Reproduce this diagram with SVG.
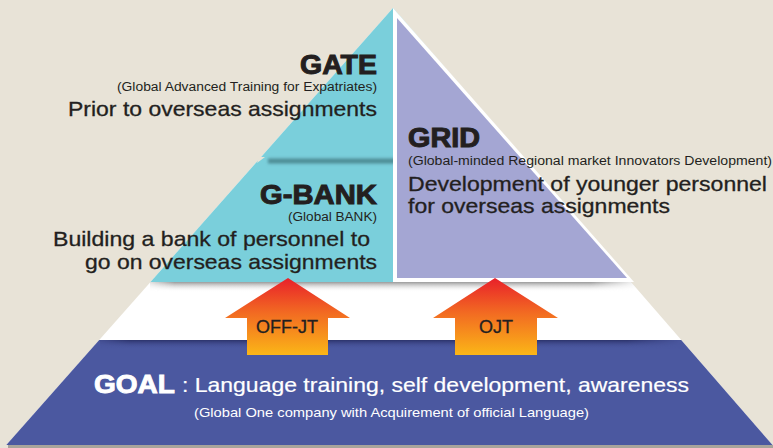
<svg xmlns="http://www.w3.org/2000/svg" width="773" height="448" viewBox="0 0 773 448">
<style>
.dark{fill:#231F20;font-family:"Liberation Sans",Arial,sans-serif}
.head{font-weight:bold;font-size:27px;stroke:#231F20;stroke-width:1}
.sub{font-size:12.5px}
.body{font-size:21px;stroke:#231F20;stroke-width:0.3}
.arrowtxt{fill:#231F20;font-family:"Liberation Sans",Arial,sans-serif;font-size:18px;text-anchor:middle;stroke:#231F20;stroke-width:0.3}
.white{fill:#FFFFFF;font-family:"Liberation Sans",Arial,sans-serif}
</style>
<defs>
<linearGradient id="arrowGrad" x1="0" y1="0" x2="0" y2="1">
<stop offset="0" stop-color="#E8202A"/>
<stop offset="0.45" stop-color="#F26A22"/>
<stop offset="1" stop-color="#FBB617"/>
</linearGradient>
<linearGradient id="grayShadow" x1="0" y1="0" x2="0" y2="1">
<stop offset="0" stop-color="#9A9A9A"/>
<stop offset="1" stop-color="#FFFFFF" stop-opacity="0"/>
</linearGradient>
<linearGradient id="navyShadow" x1="0" y1="0" x2="0" y2="1">
<stop offset="0" stop-color="#2C336B"/>
<stop offset="1" stop-color="#4B58A0" stop-opacity="0"/>
</linearGradient>
<linearGradient id="fadeR" x1="0" y1="0" x2="1" y2="0">
<stop offset="0" stop-color="#fff" stop-opacity="0.3"/>
<stop offset="0.05" stop-color="#fff" stop-opacity="1"/>
<stop offset="0.9" stop-color="#fff" stop-opacity="1"/>
<stop offset="1" stop-color="#fff" stop-opacity="0"/>
</linearGradient>
<filter id="blur" x="-10%" y="-100%" width="120%" height="300%"><feGaussianBlur stdDeviation="1.6"/></filter>
<mask id="fadeMaskGoal"><rect x="100" y="338" width="585" height="12" fill="url(#fadeR)"/></mask>
<mask id="fadeMaskTeal"><rect x="150" y="282" width="490" height="12" fill="url(#fadeR)"/></mask>
<clipPath id="pyr"><polygon points="393,8 6,445 773,445"/></clipPath>
<clipPath id="tealClip"><polygon points="393,8 150.5,282 393,282"/></clipPath>
</defs>

<rect x="0" y="0" width="773" height="448" fill="#E8E3D7"/>

<g id="base-pyramid">
<polygon points="393,8 6.3,445 772.5,445" fill="#FFFFFF"/>
<rect x="8" y="445" width="765" height="3" fill="#A8A49B"/>
</g>

<g id="goal">
<polygon points="99.2,340 681.2,340 772.5,445 6.3,445" fill="#4B58A0"/>
<g clip-path="url(#pyr)" mask="url(#fadeMaskGoal)">
<rect x="100" y="340" width="585" height="9" fill="url(#navyShadow)"/>
</g>
<text class="white" x="94" y="393" font-size="26" font-weight="bold" stroke="#FFFFFF" stroke-width="0.9" textLength="81" lengthAdjust="spacingAndGlyphs">GOAL</text>
<text class="white" x="182" y="392" font-size="21" stroke="#FFFFFF" stroke-width="0.2" textLength="507" lengthAdjust="spacingAndGlyphs">: Language training, self development, awareness</text>
<text class="white" x="194" y="417" font-size="13" textLength="395" lengthAdjust="spacingAndGlyphs">(Global One company with Acquirement of official Language)</text>
</g>

<g id="teal-level">
<polygon points="393,8 150.5,282 631,282" fill="#7ACFDB"/>
<g mask="url(#fadeMaskTeal)" clip-path="url(#pyr)">
<rect x="150" y="282" width="490" height="10" fill="url(#grayShadow)"/>
</g>
<g clip-path="url(#tealClip)">
<rect x="268" y="158.5" width="130" height="5" fill="#4E8C95" filter="url(#blur)"/>
</g>
<polygon points="259,157 265,157 257,163" fill="#E8E3D7"/>
</g>

<g id="gate">
<text class="dark head" x="377" y="74" text-anchor="end" textLength="77" lengthAdjust="spacingAndGlyphs">GATE</text>
<text class="dark sub" x="377" y="91" text-anchor="end" textLength="260" lengthAdjust="spacingAndGlyphs">(Global Advanced Training for Expatriates)</text>
<text class="dark body" x="377" y="116" text-anchor="end" textLength="309" lengthAdjust="spacingAndGlyphs">Prior to overseas assignments</text>
</g>

<g id="g-bank">
<text class="dark head" x="377" y="204" text-anchor="end" textLength="117" lengthAdjust="spacingAndGlyphs">G-BANK</text>
<text class="dark sub" x="377" y="221" text-anchor="end" textLength="89" lengthAdjust="spacingAndGlyphs">(Global BANK)</text>
<text class="dark body" x="370" y="246" text-anchor="end" textLength="317" lengthAdjust="spacingAndGlyphs">Building a bank of personnel to</text>
<text class="dark body" x="377" y="269" text-anchor="end" textLength="292" lengthAdjust="spacingAndGlyphs">go on overseas assignments</text>
</g>

<g id="grid">
<polygon points="393,8 393,282 634,282" fill="#FFFFFF"/>
<polygon points="397,18 397,278 627,278" fill="#A4A6D3"/>
<text class="dark head" x="408" y="147" textLength="72" lengthAdjust="spacingAndGlyphs">GRID</text>
<text class="dark sub" x="408" y="165" textLength="364" lengthAdjust="spacingAndGlyphs">(Global-minded Regional market Innovators Development)</text>
<text class="dark body" x="408" y="191" textLength="359" lengthAdjust="spacingAndGlyphs">Development of younger personnel</text>
<text class="dark body" x="408" y="213" textLength="262" lengthAdjust="spacingAndGlyphs">for overseas assignments</text>
</g>

<g id="connectors">
<g id="arrow-offjt">
<polygon points="288,278 350,318 328,318 328,355 247,355 247,318 225,318" fill="url(#arrowGrad)"/>
<text class="arrowtxt" x="287" y="333">OFF-JT</text>
</g>
<g id="arrow-ojt">
<polygon points="495,278 558,318 537,318 537,355 455,355 455,318 433,318" fill="url(#arrowGrad)"/>
<text class="arrowtxt" x="496" y="333">OJT</text>
</g>
</g>
</svg>
